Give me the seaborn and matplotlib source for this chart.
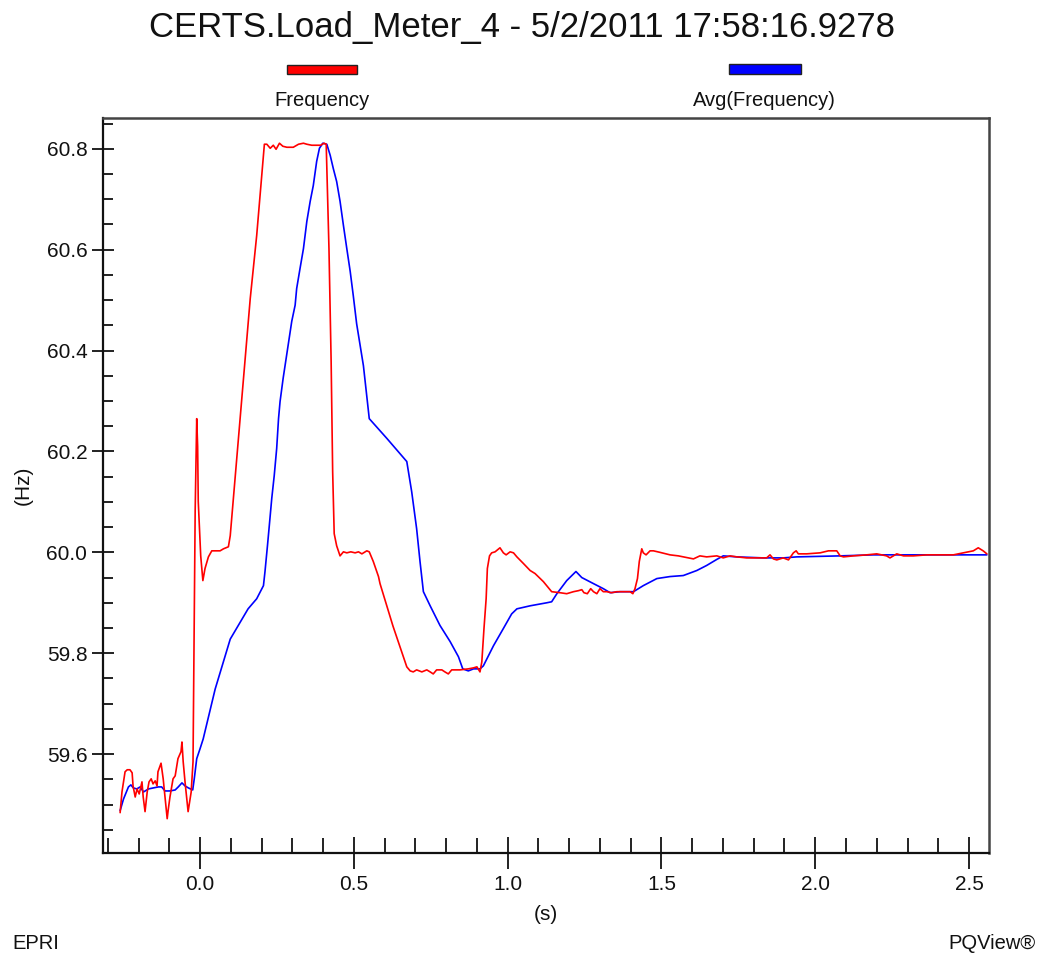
import matplotlib
matplotlib.use("Agg")
import matplotlib.pyplot as plt
from matplotlib.ticker import MultipleLocator, FormatStrFormatter
from matplotlib.patches import Rectangle
import seaborn as sns
import pandas as pd

# ---------------- data ----------------
title = "CERTS.Load_Meter_4 - 5/2/2011 17:58:16.9278"
series_names = ["Frequency", "Avg(Frequency)"]

freq_t = [
    -0.260, -0.254, -0.244, -0.237, -0.228, -0.221, -0.218, -0.211, -0.205, -0.198,
    -0.189, -0.185, -0.179, -0.172, -0.166, -0.159, -0.153, -0.146, -0.140, -0.137,
    -0.127, -0.120, -0.111, -0.107, -0.104, -0.098, -0.088, -0.081, -0.072, -0.062,
    -0.059, -0.055, -0.049, -0.042, -0.039, -0.029, -0.023, -0.016, -0.011, -0.008,
    -0.006, 0.002, 0.009, 0.016, 0.027, 0.038, 0.065, 0.076, 0.092, 0.098,
    0.130, 0.163, 0.184, 0.209, 0.217, 0.228, 0.238, 0.247, 0.258, 0.269,
    0.282, 0.303, 0.320, 0.336, 0.347, 0.363, 0.379, 0.392, 0.403, 0.410,
    0.413, 0.419, 0.426, 0.431, 0.436, 0.444, 0.455, 0.466, 0.477, 0.490,
    0.504, 0.515, 0.526, 0.542, 0.550, 0.563, 0.580, 0.585, 0.627, 0.672,
    0.683, 0.693, 0.704, 0.721, 0.737, 0.748, 0.758, 0.769, 0.786, 0.796,
    0.807, 0.818, 0.845, 0.872, 0.889, 0.900, 0.910, 0.916, 0.923, 0.930,
    0.934, 0.941, 0.948, 0.959, 0.975, 0.986, 0.995, 1.008, 1.019, 1.030,
    1.051, 1.073, 1.089, 1.116, 1.143, 1.170, 1.192, 1.214, 1.230, 1.241,
    1.248, 1.259, 1.270, 1.279, 1.290, 1.300, 1.311, 1.322, 1.338, 1.355,
    1.376, 1.398, 1.407, 1.414, 1.422, 1.428, 1.436, 1.441, 1.450, 1.463,
    1.474, 1.495, 1.528, 1.555, 1.587, 1.604, 1.625, 1.647, 1.680, 1.701,
    1.723, 1.745, 1.777, 1.821, 1.842, 1.853, 1.864, 1.875, 1.896, 1.913,
    1.929, 1.938, 1.945, 1.972, 2.016, 2.043, 2.070, 2.081, 2.092, 2.124,
    2.167, 2.200, 2.232, 2.243, 2.265, 2.287, 2.319, 2.363, 2.406, 2.449,
    2.482, 2.514, 2.530, 2.546, 2.558,
]
freq_hz = [
    59.484, 59.525, 59.565, 59.569, 59.569, 59.563, 59.537, 59.515, 59.531, 59.521,
    59.545, 59.515, 59.486, 59.525, 59.545, 59.551, 59.541, 59.547, 59.537, 59.565,
    59.582, 59.551, 59.497, 59.472, 59.488, 59.515, 59.551, 59.557, 59.591, 59.605,
    59.624, 59.585, 59.545, 59.505, 59.486, 59.525, 59.585, 60.083, 60.265, 60.210,
    60.101, 59.993, 59.944, 59.968, 59.991, 60.003, 60.003, 60.007, 60.011, 60.033,
    60.265, 60.503, 60.628, 60.809, 60.809, 60.801, 60.807, 60.799, 60.811, 60.805,
    60.803, 60.803, 60.809, 60.811, 60.809, 60.807, 60.807, 60.807, 60.811, 60.809,
    60.741, 60.602, 60.380, 60.160, 60.037, 60.013, 59.993, 60.001, 59.999, 60.001,
    59.999, 60.001, 59.997, 60.003, 60.001, 59.982, 59.952, 59.938, 59.854, 59.773,
    59.765, 59.763, 59.767, 59.763, 59.767, 59.763, 59.759, 59.767, 59.767, 59.763,
    59.759, 59.767, 59.767, 59.769, 59.771, 59.773, 59.763, 59.783, 59.849, 59.908,
    59.968, 59.993, 59.999, 60.001, 60.009, 59.999, 59.995, 60.001, 59.999, 59.991,
    59.978, 59.964, 59.958, 59.942, 59.922, 59.920, 59.918, 59.922, 59.924, 59.926,
    59.920, 59.918, 59.928, 59.922, 59.918, 59.928, 59.922, 59.922, 59.920, 59.922,
    59.922, 59.922, 59.918, 59.928, 59.948, 59.982, 60.007, 59.999, 59.995, 60.003,
    60.003, 60.000, 59.995, 59.993, 59.989, 59.987, 59.993, 59.991, 59.993, 59.989,
    59.993, 59.991, 59.989, 59.989, 59.989, 59.995, 59.987, 59.985, 59.989, 59.985,
    59.999, 60.003, 59.997, 59.997, 59.999, 60.003, 60.003, 59.993, 59.991, 59.993,
    59.995, 59.997, 59.993, 59.989, 59.997, 59.993, 59.993, 59.995, 59.995, 59.995,
    59.999, 60.003, 60.009, 60.003, 59.997,
]

avg_t = [
    -0.260, -0.249, -0.233, -0.225, -0.217, -0.206, -0.195, -0.184, -0.168, -0.152,
    -0.136, -0.125, -0.114, -0.098, -0.081, -0.071, -0.059, -0.049, -0.038, -0.024,
    -0.019, -0.011, 0.000, 0.010, 0.049, 0.098, 0.156, 0.184, 0.206, 0.211,
    0.219, 0.225, 0.233, 0.241, 0.249, 0.255, 0.260, 0.270, 0.298, 0.309,
    0.314, 0.325, 0.336, 0.347, 0.358, 0.368, 0.379, 0.388, 0.399, 0.412,
    0.423, 0.433, 0.444, 0.455, 0.466, 0.477, 0.488, 0.498, 0.509, 0.531,
    0.550, 0.607, 0.672, 0.688, 0.704, 0.715, 0.726, 0.748, 0.780, 0.813,
    0.840, 0.854, 0.872, 0.889, 0.910, 0.921, 0.954, 0.986, 1.013, 1.030,
    1.073, 1.127, 1.143, 1.160, 1.192, 1.222, 1.241, 1.279, 1.311, 1.333,
    1.365, 1.409, 1.441, 1.485, 1.528, 1.571, 1.615, 1.647, 1.680, 1.701,
    1.745, 1.831, 1.896, 1.940, 2.081, 2.189, 2.341, 2.558,
]
avg_hz = [
    59.488, 59.511, 59.535, 59.539, 59.533, 59.531, 59.535, 59.525, 59.531, 59.533,
    59.535, 59.535, 59.527, 59.527, 59.529, 59.535, 59.543, 59.537, 59.533, 59.529,
    59.551, 59.591, 59.611, 59.630, 59.729, 59.828, 59.888, 59.908, 59.934, 59.962,
    60.013, 60.053, 60.107, 60.152, 60.206, 60.265, 60.299, 60.345, 60.458, 60.490,
    60.523, 60.563, 60.602, 60.656, 60.696, 60.727, 60.775, 60.801, 60.811, 60.809,
    60.787, 60.761, 60.735, 60.696, 60.648, 60.602, 60.557, 60.509, 60.453, 60.370,
    60.265, 60.226, 60.180, 60.120, 60.047, 59.982, 59.922, 59.894, 59.855, 59.823,
    59.793, 59.769, 59.765, 59.769, 59.769, 59.775, 59.815, 59.849, 59.878, 59.888,
    59.894, 59.900, 59.902, 59.918, 59.944, 59.962, 59.950, 59.938, 59.928, 59.920,
    59.922, 59.922, 59.934, 59.948, 59.952, 59.954, 59.964, 59.974, 59.986, 59.993,
    59.991, 59.989, 59.989, 59.991, 59.993, 59.995, 59.995, 59.995,
]

x_major_ticks = [0.0, 0.5, 1.0, 1.5, 2.0, 2.5]
x_label = "(s)"
y_label = "(Hz)"
footer_left = "EPRI"
footer_right = "PQView®"

# ---------------- style ----------------
sns.set_style("ticks")
plt.rcParams["font.family"] = ["Liberation Sans", "DejaVu Sans"]

W, H = 1038, 955
fig = plt.figure(figsize=(W / 100, H / 100), dpi=100)
ax = fig.add_axes([102.6 / W, 1 - 853 / H, (988.7 - 102.6) / W, (853 - 118) / H])

df_f = pd.DataFrame({"t": freq_t, "f": freq_hz})
df_a = pd.DataFrame({"t": avg_t, "f": avg_hz})
sns.lineplot(data=df_a, x="t", y="f", sort=False, estimator=None, color="#0000ff",
             linewidth=1.2, ax=ax, zorder=2)
sns.lineplot(data=df_f, x="t", y="f", sort=False, estimator=None, color="#ff0000",
             linewidth=1.2, ax=ax, zorder=3)

ax.set_xlim(-0.317, 2.564)
ax.set_ylim(59.404, 60.861)

ax.set_xticks(x_major_ticks)
ax.xaxis.set_minor_locator(MultipleLocator(0.1))
ax.xaxis.set_major_formatter(FormatStrFormatter("%.1f"))
ax.yaxis.set_major_locator(MultipleLocator(0.2))
ax.yaxis.set_minor_locator(MultipleLocator(0.05))
ax.yaxis.set_major_formatter(FormatStrFormatter("%.1f"))

ax.tick_params(axis="both", which="both", bottom=True, left=True, top=False, right=False)
ax.tick_params(axis="x", which="major", direction="inout", length=23, width=1.3,
               color="#111111", labelsize=15, pad=4, labelcolor="#111111")
ax.tick_params(axis="x", which="minor", direction="in", length=11, width=1.3, color="#111111")
ax.tick_params(axis="y", which="major", direction="inout", length=16, width=1.3,
               color="#111111", labelsize=15, pad=3, labelcolor="#111111")
ax.tick_params(axis="y", which="minor", direction="in", length=7, width=1.3, color="#111111")

for side in ["left", "bottom"]:
    ax.spines[side].set_visible(True)
    ax.spines[side].set_color("#111111")
    ax.spines[side].set_linewidth(1.6)
for side in ["top", "right"]:
    ax.spines[side].set_visible(True)
    ax.spines[side].set_color("#444444")
    ax.spines[side].set_linewidth(1.8)

ax.set_xlabel(x_label, fontsize=15, labelpad=8, color="#111111")
ax.set_ylabel(y_label, fontsize=15, labelpad=10, color="#111111")

# title
fig.text(522 / W, 1 - 28 / H, title, ha="center", va="center", fontsize=25, color="#111111")

# legend (swatches above the plot)
fig.patches.append(Rectangle((287 / W, 1 - 74 / H), 70 / W, 9 / H, transform=fig.transFigure,
                             facecolor="#ff0000", edgecolor="#222222", linewidth=1.0))
fig.patches.append(Rectangle((729 / W, 1 - 74 / H), 72 / W, 10 / H, transform=fig.transFigure,
                             facecolor="#0000ff", edgecolor="#222222", linewidth=1.0))
fig.text(322 / W, 1 - 100 / H, series_names[0], ha="center", va="center", fontsize=14.5, color="#111111")
fig.text(764 / W, 1 - 100 / H, series_names[1], ha="center", va="center", fontsize=14.5, color="#111111")

# footers
fig.text(12 / W, 1 - 943 / H, footer_left, ha="left", va="center", fontsize=14.5, color="#111111")
fig.text(1036 / W, 1 - 943 / H, footer_right, ha="right", va="center", fontsize=14.5, color="#111111")

fig.savefig("out.png", dpi=100, facecolor="white")
